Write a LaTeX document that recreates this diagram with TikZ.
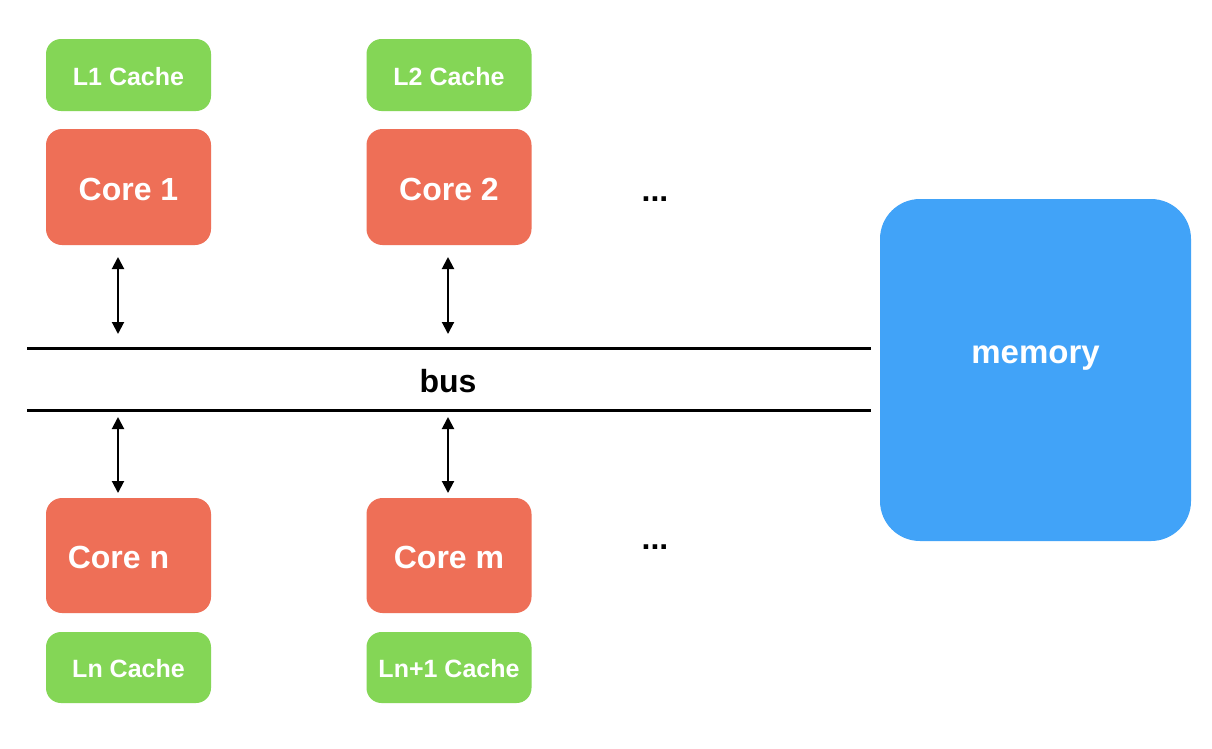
\documentclass[tikz,border=0pt]{standalone}
\usepackage{fontspec}
\setmainfont{Liberation Sans}
\usetikzlibrary{arrows.meta}
\definecolor{cachegreen}{RGB}{132,214,86}
\definecolor{corered}{RGB}{238,111,87}
\definecolor{memblue}{RGB}{65,163,248}
\begin{document}
\begin{tikzpicture}[x=1pt,y=-1pt,
  cachebox/.style={fill=cachegreen, draw=none, rounded corners=15pt, minimum width=165pt, minimum height=72pt, inner sep=0pt},
  corebox/.style={fill=corered, draw=none, rounded corners=16pt, minimum width=165pt, minimum height=116pt, inner sep=0pt},
  membox/.style={fill=memblue, draw=none, rounded corners=40pt, minimum width=311pt, minimum height=342pt, inner sep=0pt},
  cachetext/.style={text=white, font=\fontsize{25}{30}\selectfont\bfseries, anchor=base, inner sep=0pt},
  coretext/.style={text=white, font=\fontsize{32}{38}\selectfont\bfseries, anchor=base, inner sep=0pt},
  blacktext/.style={text=black, font=\fontsize{32}{38}\selectfont\bfseries, anchor=base, inner sep=0pt},
  busline/.style={line width=3pt},
  biarrow/.style={line width=2pt, {Triangle[length=12pt,width=12pt]}-{Triangle[length=12pt,width=12pt]}}
]
\fill[white] (0,0) rectangle (1212,748);
\useasboundingbox (0,0) rectangle (1212,748);

% boxes
\node[cachebox] (l1) at (128.5,75) {};
\node[cachebox] (l2) at (449,75) {};
\node[corebox] (core1) at (128.5,187) {};
\node[corebox] (core2) at (449,187) {};
\node[corebox, minimum height=115pt] (coren) at (128.5,555.5) {};
\node[corebox, minimum height=115pt] (corem) at (449,555.5) {};
\node[cachebox, minimum height=71pt] (ln) at (128.5,667.5) {};
\node[cachebox, minimum height=71pt] (ln1) at (449,667.5) {};
\node[membox] (mem) at (1035.5,370) {};

% texts
\node[cachetext] (l1t) at ([yshift=-10pt]l1.center) {L1 Cache};
\node[cachetext] (l2t) at ([yshift=-10pt]l2.center) {L2 Cache};
\node[coretext] (core1t) at ([yshift=-13pt]core1.center) {Core 1};
\node[coretext] (core2t) at ([yshift=-13pt]core2.center) {Core 2};
\node[coretext] (corent) at ([xshift=-10pt,yshift=-12.5pt]coren.center) {Core n};
\node[coretext] (coremt) at ([yshift=-12.5pt]corem.center) {Core m};
\node[cachetext] (lnt) at ([yshift=-10pt]ln.center) {Ln Cache};
\node[cachetext] (ln1t) at ([yshift=-10pt]ln1.center) {Ln+1 Cache};
\node[coretext, font=\fontsize{33}{38}\selectfont\bfseries] (memt) at ([yshift=7pt]mem.center) {memory};
\node[blacktext] (bust) at (448,392) {bus};
\node[blacktext] (dots1) at (655,201) {...};
\node[blacktext] (dots2) at (655,549) {...};

% bus lines
\coordinate (btl) at (27,348);
\coordinate (btr) at (871,348);
\coordinate (bbl) at (27,410.5);
\coordinate (bbr) at (871,410.5);
\draw[busline] (btl) -- (btr);
\draw[busline] (bbl) -- (bbr);

% arrows
\coordinate (a1s) at (118,257); \coordinate (a1e) at (118,334);
\coordinate (a2s) at (448,257); \coordinate (a2e) at (448,334);
\coordinate (a3s) at (118,417); \coordinate (a3e) at (118,493);
\coordinate (a4s) at (448,417); \coordinate (a4e) at (448,493);
\draw[biarrow] (a1s) -- (a1e);
\draw[biarrow] (a2s) -- (a2e);
\draw[biarrow] (a3s) -- (a3e);
\draw[biarrow] (a4s) -- (a4e);
\end{tikzpicture}
\end{document}
